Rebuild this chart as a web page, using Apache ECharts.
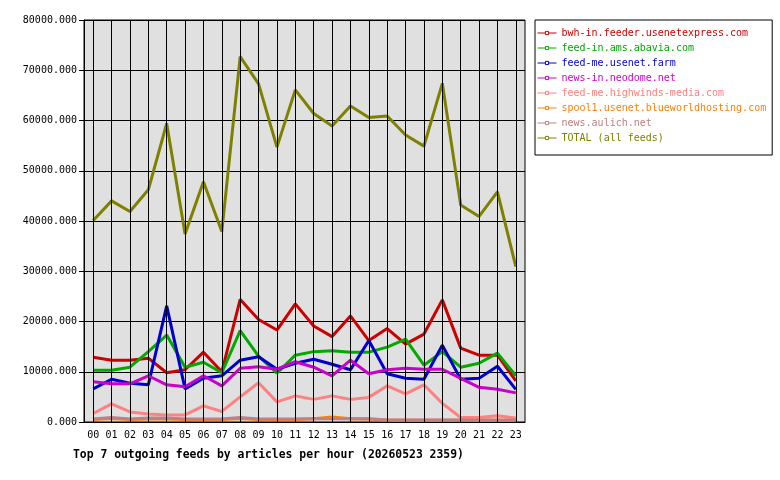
<!DOCTYPE html>
<html>
<head>
<meta charset="utf-8">
<script src="https://cdn.jsdelivr.net/npm/echarts@6/dist/echarts.min.js"></script>
<style>
  html, body { margin: 0; padding: 0; background: #fff; }
  #chart { width: 780px; height: 480px; }
</style>
</head>
<body>
<div id="chart"></div>
<script>
// hours of the day
var hours = ['00','01','02','03','04','05','06','07','08','09','10','11',
             '12','13','14','15','16','17','18','19','20','21','22','23']

// articles per hour
var bwh       = [12900, 12300, 12300, 12700, 9800, 10400, 13900, 10000, 24400, 20400, 18300, 23500,
                 19100, 17000, 21100, 16200, 18600, 15500, 17500, 24300, 14700, 13300, 13300, 8200]
var abavia    = [10300, 10300, 10900, 14000, 17300, 10900, 11900, 9800, 18200, 13100, 9700, 13300,
                 14000, 14200, 13900, 13900, 14900, 16500, 11300, 14000, 10900, 11700, 13700, 9200]
var farm      = [6600, 8500, 7700, 7400, 23100, 6600, 8700, 9200, 12300, 13000, 10500, 11700,
                 12500, 11500, 10400, 16200, 9600, 8700, 8500, 15300, 8500, 8700, 11100, 6500]
var neodome   = [8000, 7600, 7600, 9200, 7400, 7000, 9200, 7200, 10700, 11000, 10500, 12000,
                 10900, 9200, 12300, 9600, 10400, 10700, 10500, 10500, 8700, 6900, 6500, 5800]
var highwinds = [1700, 3600, 2000, 1600, 1400, 1400, 3200, 2100, 5000, 7800, 4000, 5200,
                 4500, 5200, 4500, 4900, 7200, 5600, 7400, 3700, 900, 900, 1250, 800]
var spool1    = [500, 700, 500, 600, 600, 500, 500, 500, 700, 500, 500, 500,
                 650, 1000, 650, 600, 350, 350, 350, 350, 350, 350, 350, 350]
var aulich    = [600, 900, 600, 800, 800, 600, 600, 600, 900, 600, 600, 600,
                 650, 650, 650, 650, 400, 400, 400, 400, 400, 400, 400, 400]
var total     = [40100, 44000, 41900, 46200, 59400, 37400, 47800, 37900, 72700, 67300, 54700, 66100,
                 61400, 58900, 62900, 60600, 60900, 57100, 54900, 67400, 43200, 40900, 45800, 30900]

var feeds = [
  { name: 'bwh-in.feeder.usenetexpress.com', color: '#cc0000', data: bwh },
  { name: 'feed-in.ams.abavia.com', color: '#00aa00', data: abavia },
  { name: 'feed-me.usenet.farm', color: '#0000cc', data: farm },
  { name: 'news-in.neodome.net', color: '#cc00cc', data: neodome },
  { name: 'feed-me.highwinds-media.com', color: '#ff8080', data: highwinds },
  { name: 'spool1.usenet.blueworldhosting.com', color: '#ff8000', data: spool1 },
  { name: 'news.aulich.net', color: '#c08080', data: aulich },
  { name: 'TOTAL (all feeds)', color: '#808000', data: total }
]

var mono = '"DejaVu Sans Mono", monospace'
var chart = echarts.init(document.getElementById('chart'))

var series = feeds.map(function (f) {
  return {
    name: f.name,
    type: 'line',
    data: f.data,
    z: 3,
    symbol: 'rect',
    symbolSize: 4,
    showSymbol: false,
    color: f.color,
    lineStyle: { width: 3, color: f.color }
  }
})

// vertical grid lines sit on the hour centres, so draw them as mark lines
series.unshift({
  name: 'vgrid',
  type: 'line',
  data: [],
  z: 1,
  silent: true,
  markLine: {
    silent: true,
    symbol: 'none',
    label: { show: false },
    lineStyle: { color: '#000', type: 'solid', width: 1 },
    data: hours.map(function (h) { return { xAxis: h } })
  }
})

chart.setOption({
  animation: false,
  textStyle: { fontFamily: mono },
  title: {
    text: 'Top 7 outgoing feeds by articles per hour (20260523 2359)',
    left: 68,
    top: 445,
    textStyle: { fontFamily: mono, fontSize: 11.4, fontWeight: 'bold', color: '#000' }
  },
  legend: {
    orient: 'vertical',
    left: 535,
    top: 20,
    padding: [8, 6, 12, 2],
    itemGap: 5,
    itemWidth: 19,
    itemHeight: 4,
    backgroundColor: '#fff',
    borderColor: '#000',
    borderWidth: 1,
    borderRadius: 0,
    lineStyle: { width: 1 },
    textStyle: { fontFamily: mono, fontSize: 10, lineHeight: 10 },
    data: feeds.map(function (f) {
      return {
        name: f.name,
        itemStyle: { color: '#fff', borderColor: f.color, borderWidth: 1 },
        textStyle: { color: f.color }
      }
    })
  },
  grid: {
    left: 84,
    right: 255,
    top: 20,
    bottom: 58,
    show: true,
    backgroundColor: '#e0e0e0',
    borderColor: '#000',
    borderWidth: 1
  },
  xAxis: {
    type: 'category',
    data: hours,
    boundaryGap: true,
    axisLine: { lineStyle: { color: '#000' } },
    axisTick: { alignWithLabel: true, length: 5, lineStyle: { color: '#000' } },
    axisLabel: { color: '#000', fontFamily: mono, fontSize: 10, margin: 8, interval: 0 },
    splitLine: { show: false }
  },
  yAxis: {
    type: 'value',
    min: 0,
    max: 80000,
    interval: 10000,
    axisLine: { show: true, lineStyle: { color: '#000' } },
    axisTick: { show: true, length: 5, lineStyle: { color: '#000' } },
    axisLabel: {
      color: '#000', fontFamily: mono, fontSize: 10, margin: 7,
      formatter: function (v) { return v.toFixed(3) }
    },
    splitLine: { show: true, lineStyle: { color: '#000', width: 1 } }
  },
  series: series
})
</script>
</body>
</html>
